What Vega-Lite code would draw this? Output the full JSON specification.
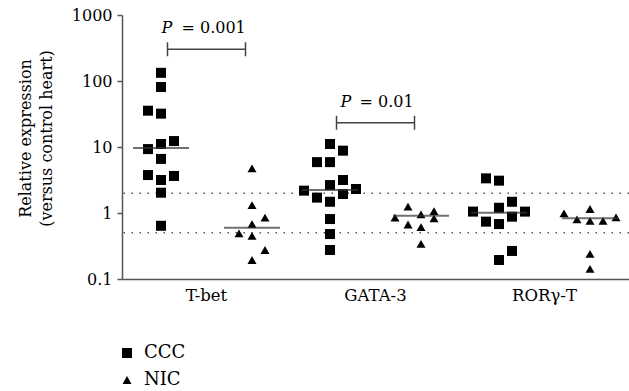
{
  "$schema": "https://vega.github.io/schema/vega-lite/v6.json",
  "width": 507,
  "height": 264,
  "autosize": {"type": "none"},
  "padding": {"left": 122, "top": 15, "right": 0, "bottom": 112},
  "background": "white",
  "config": {
    "view": {"stroke": null},
    "font": "DejaVu Serif",
    "axis": {"labelFont": "DejaVu Serif", "titleFont": "DejaVu Serif", "labelColor": "black", "titleColor": "black", "domainColor": "#555", "domainWidth": 1.5, "tickColor": "#555", "tickWidth": 1.5, "grid": false},
    "legend": {"labelFont": "DejaVu Serif"},
    "text": {"font": "DejaVu Serif"}
  },
  "datasets": {
    "points": [
      {"gene": "T-bet", "group": "CCC", "col": "C0", "value": 133},
      {"gene": "T-bet", "group": "CCC", "col": "C0", "value": 81},
      {"gene": "T-bet", "group": "CCC", "col": "C-1", "value": 35.5},
      {"gene": "T-bet", "group": "CCC", "col": "C0", "value": 32},
      {"gene": "T-bet", "group": "CCC", "col": "C1", "value": 12.3},
      {"gene": "T-bet", "group": "CCC", "col": "C0", "value": 11.1},
      {"gene": "T-bet", "group": "CCC", "col": "C-1", "value": 9.3},
      {"gene": "T-bet", "group": "CCC", "col": "C0", "value": 6.6},
      {"gene": "T-bet", "group": "CCC", "col": "C-1", "value": 3.76},
      {"gene": "T-bet", "group": "CCC", "col": "C1", "value": 3.64},
      {"gene": "T-bet", "group": "CCC", "col": "C0", "value": 3.16},
      {"gene": "T-bet", "group": "CCC", "col": "C0", "value": 2.03},
      {"gene": "T-bet", "group": "CCC", "col": "C0", "value": 0.64},
      {"gene": "T-bet", "group": "NIC", "col": "N0", "value": 4.75},
      {"gene": "T-bet", "group": "NIC", "col": "N0", "value": 1.32},
      {"gene": "T-bet", "group": "NIC", "col": "N1", "value": 0.85},
      {"gene": "T-bet", "group": "NIC", "col": "N0", "value": 0.68},
      {"gene": "T-bet", "group": "NIC", "col": "N-1", "value": 0.49},
      {"gene": "T-bet", "group": "NIC", "col": "N0", "value": 0.45},
      {"gene": "T-bet", "group": "NIC", "col": "N1", "value": 0.275},
      {"gene": "T-bet", "group": "NIC", "col": "N0", "value": 0.194},
      {"gene": "GATA-3", "group": "CCC", "col": "C0", "value": 11.1},
      {"gene": "GATA-3", "group": "CCC", "col": "C1", "value": 8.8},
      {"gene": "GATA-3", "group": "CCC", "col": "C-1", "value": 5.9},
      {"gene": "GATA-3", "group": "CCC", "col": "C0", "value": 5.9},
      {"gene": "GATA-3", "group": "CCC", "col": "C1", "value": 3.16},
      {"gene": "GATA-3", "group": "CCC", "col": "C0", "value": 2.65},
      {"gene": "GATA-3", "group": "CCC", "col": "C-2", "value": 2.18},
      {"gene": "GATA-3", "group": "CCC", "col": "C2", "value": 2.31},
      {"gene": "GATA-3", "group": "CCC", "col": "C1", "value": 1.94},
      {"gene": "GATA-3", "group": "CCC", "col": "C-1", "value": 1.71},
      {"gene": "GATA-3", "group": "CCC", "col": "C0", "value": 1.48},
      {"gene": "GATA-3", "group": "CCC", "col": "C0", "value": 0.81},
      {"gene": "GATA-3", "group": "CCC", "col": "C0", "value": 0.48},
      {"gene": "GATA-3", "group": "CCC", "col": "C0", "value": 0.275},
      {"gene": "GATA-3", "group": "NIC", "col": "N-1", "value": 1.25},
      {"gene": "GATA-3", "group": "NIC", "col": "N1", "value": 1.07},
      {"gene": "GATA-3", "group": "NIC", "col": "N-2", "value": 0.85},
      {"gene": "GATA-3", "group": "NIC", "col": "N0", "value": 0.955},
      {"gene": "GATA-3", "group": "NIC", "col": "N1", "value": 0.83},
      {"gene": "GATA-3", "group": "NIC", "col": "N-1", "value": 0.67},
      {"gene": "GATA-3", "group": "NIC", "col": "N0", "value": 0.61},
      {"gene": "GATA-3", "group": "NIC", "col": "N0", "value": 0.34},
      {"gene": "RORγ-T", "group": "CCC", "col": "C-1", "value": 3.35},
      {"gene": "RORγ-T", "group": "CCC", "col": "C0", "value": 3.09},
      {"gene": "RORγ-T", "group": "CCC", "col": "C1", "value": 1.48},
      {"gene": "RORγ-T", "group": "CCC", "col": "C-2", "value": 1.05},
      {"gene": "RORγ-T", "group": "CCC", "col": "C0", "value": 1.2},
      {"gene": "RORγ-T", "group": "CCC", "col": "C2", "value": 1.05},
      {"gene": "RORγ-T", "group": "CCC", "col": "C1", "value": 0.88},
      {"gene": "RORγ-T", "group": "CCC", "col": "C-1", "value": 0.74},
      {"gene": "RORγ-T", "group": "CCC", "col": "C0", "value": 0.68},
      {"gene": "RORγ-T", "group": "CCC", "col": "C1", "value": 0.266},
      {"gene": "RORγ-T", "group": "CCC", "col": "C0", "value": 0.194},
      {"gene": "RORγ-T", "group": "NIC", "col": "N-2", "value": 0.99},
      {"gene": "RORγ-T", "group": "NIC", "col": "N0", "value": 1.15},
      {"gene": "RORγ-T", "group": "NIC", "col": "N-1", "value": 0.8},
      {"gene": "RORγ-T", "group": "NIC", "col": "N0", "value": 0.76},
      {"gene": "RORγ-T", "group": "NIC", "col": "N1", "value": 0.76},
      {"gene": "RORγ-T", "group": "NIC", "col": "N2", "value": 0.86},
      {"gene": "RORγ-T", "group": "NIC", "col": "N0", "value": 0.24},
      {"gene": "RORγ-T", "group": "NIC", "col": "N0", "value": 0.142}
    ],
    "medians": [
      {"gene": "T-bet", "group": "CCC", "col": "C0", "median": 9.65},
      {"gene": "T-bet", "group": "NIC", "col": "N0", "median": 0.6},
      {"gene": "GATA-3", "group": "CCC", "col": "C0", "median": 2.23},
      {"gene": "GATA-3", "group": "NIC", "col": "N0", "median": 0.91},
      {"gene": "RORγ-T", "group": "CCC", "col": "C0", "median": 1.01},
      {"gene": "RORγ-T", "group": "NIC", "col": "N0", "median": 0.83}
    ],
    "refs": [{"level": 2}, {"level": 0.5}],
    "pvals": [
      {"gene": "T-bet", "y": 302, "label": "= 0.001"},
      {"gene": "GATA-3", "y": 23.3, "label": "= 0.01"}
    ]
  },
  "encoding": {
    "x": {
      "field": "gene", "type": "nominal",
      "scale": {"domain": ["T-bet", "GATA-3", "RORγ-T"], "paddingInner": 0, "paddingOuter": 0},
      "axis": {"title": null, "ticks": false, "labelAngle": 0, "labelFontSize": 16.5, "labelPadding": 8}
    }
  },
  "layer": [
    {
      "data": {"name": "refs"},
      "mark": {"type": "rule", "color": "#555", "strokeWidth": 1.5, "strokeDash": [1.5, 6.5]},
      "encoding": {
        "x": null,
        "y": {"field": "level", "type": "quantitative"}
      }
    },
    {
      "data": {"name": "points"},
      "mark": {"type": "point", "filled": true, "color": "black", "opacity": 1},
      "encoding": {
        "xOffset": {"field": "col", "type": "nominal", "scale": {"type": "point", "domain": ["C-2", "C-1", "C0", "C1", "C2", "g1", "g2", "N-2", "N-1", "N0", "N1", "N2"], "padding": 1.54}},
        "y": {
          "field": "value", "type": "quantitative",
          "scale": {"type": "log", "domain": [0.1, 1000], "nice": false},
          "axis": {"values": [0.1, 1, 10, 100, 1000], "format": "~g", "labelFontSize": 16, "tickSize": 5, "labelPadding": 5,
                   "title": ["Relative expression", "(versus control heart)"], "titleFontSize": 16, "titleFontWeight": "normal",
                   "titleX": -92, "titleY": 123, "titleAngle": -90, "titleBaseline": "alphabetic", "titleAlign": "center", "titleLineHeight": 21}
        },
        "shape": {"field": "group", "type": "nominal", "scale": {"domain": ["CCC", "NIC"], "range": ["square", "triangle-up"]},
                  "legend": {"orient": "none", "legendX": -4, "legendY": 329, "title": null, "padding": 0,
                             "symbolFillColor": "black", "symbolStrokeWidth": 0, "labelFontSize": 18, "labelColor": "black", "rowPadding": 9, "labelOffset": 8}},
        "size": {"field": "group", "type": "nominal", "scale": {"domain": ["CCC", "NIC"], "range": [100, 81]},
                 "legend": {"orient": "none", "legendX": -4, "legendY": 329, "title": null, "padding": 0,
                             "symbolFillColor": "black", "symbolStrokeWidth": 0, "labelFontSize": 18, "labelColor": "black", "rowPadding": 9, "labelOffset": 8}}
      }
    },
    {
      "data": {"name": "medians"},
      "mark": {"type": "tick", "size": 56, "thickness": 2, "color": "#333"},
      "encoding": {
        "xOffset": {"field": "col", "type": "nominal"},
        "y": {"field": "median", "type": "quantitative"}
      }
    },
    {
      "data": {"name": "pvals"},
      "mark": {"type": "point", "shape": "M-1,-0.18L-1,0.18M-1,0L1,0M1,-0.18L1,0.18", "size": 6084, "filled": false, "color": "#444", "strokeWidth": 1.5, "opacity": 1},
      "encoding": {"y": {"field": "y", "type": "quantitative"}}
    },
    {
      "data": {"name": "pvals"},
      "transform": [{"filter": "datum.gene === 'T-bet'"}],
      "mark": {"type": "text", "text": "P", "fontStyle": "italic", "fontSize": 16, "align": "left", "baseline": "alphabetic", "dx": -45, "dy": -16, "color": "black"},
      "encoding": {"y": {"field": "y", "type": "quantitative"}}
    },
    {
      "data": {"name": "pvals"},
      "transform": [{"filter": "datum.gene === 'T-bet'"}],
      "mark": {"type": "text", "fontSize": 16, "align": "left", "baseline": "alphabetic", "dx": -25, "dy": -16, "color": "black"},
      "encoding": {"y": {"field": "y", "type": "quantitative"}, "text": {"field": "label"}}
    },
    {
      "data": {"name": "pvals"},
      "transform": [{"filter": "datum.gene === 'GATA-3'"}],
      "mark": {"type": "text", "text": "P", "fontStyle": "italic", "fontSize": 16, "align": "left", "baseline": "alphabetic", "dx": -35, "dy": -16, "color": "black"},
      "encoding": {"y": {"field": "y", "type": "quantitative"}}
    },
    {
      "data": {"name": "pvals"},
      "transform": [{"filter": "datum.gene === 'GATA-3'"}],
      "mark": {"type": "text", "fontSize": 16, "align": "left", "baseline": "alphabetic", "dx": -16, "dy": -16, "color": "black"},
      "encoding": {"y": {"field": "y", "type": "quantitative"}, "text": {"field": "label"}}
    }
  ]
}
